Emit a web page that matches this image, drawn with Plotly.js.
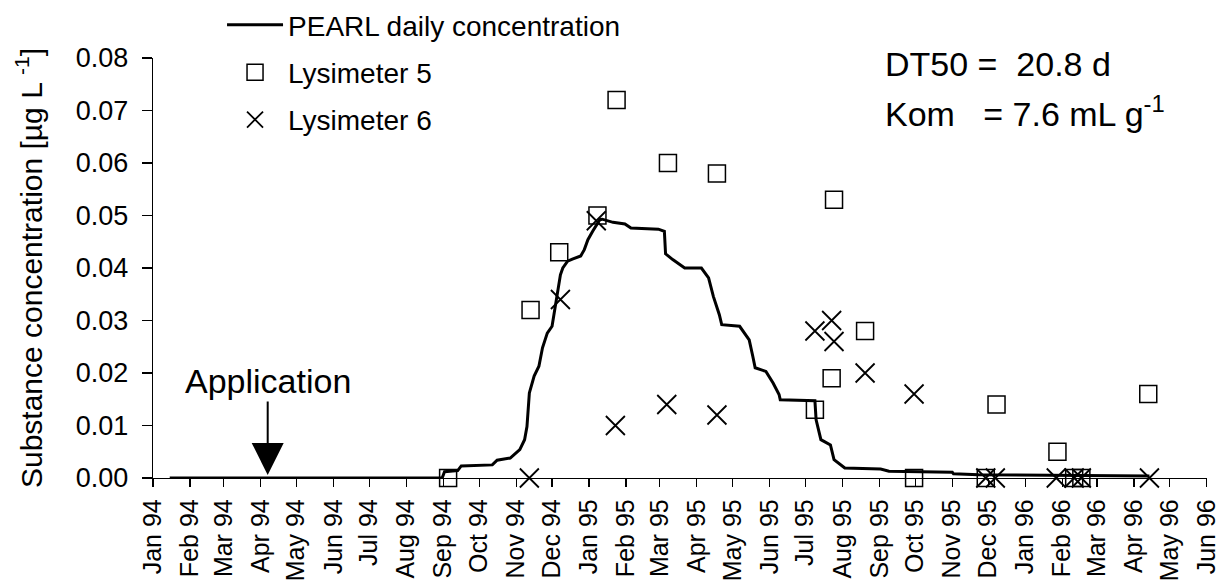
<!DOCTYPE html>
<html>
<head>
<meta charset="utf-8">
<script src="https://cdn.plot.ly/plotly-3.0.1.min.js"></script>
<style>
  html, body { margin: 0; padding: 0; background: #fff; }
  #chart { width: 1224px; height: 581px; }
</style>
</head>
<body>
<div id="chart"></div>
<script>
// Simulated PEARL leachate concentration (daily output, key turning points)
const pearlDates = [
  '1994-01-15', '1994-08-31', '1994-09-02', '1994-09-13', '1994-09-16', '1994-10-12',
  '1994-10-16', '1994-10-27', '1994-11-04', '1994-11-08', '1994-11-10', '1994-11-12',
  '1994-11-16', '1994-11-20', '1994-11-23', '1994-11-27', '1994-12-01', '1994-12-04',
  '1994-12-08', '1994-12-10', '1994-12-14', '1994-12-18', '1994-12-25', '1994-12-28',
  '1994-12-31', '1995-01-04', '1995-01-10', '1995-01-12', '1995-01-21', '1995-01-31',
  '1995-02-05', '1995-02-28', '1995-03-05', '1995-03-06', '1995-03-12', '1995-03-22',
  '1995-04-05', '1995-04-11', '1995-04-15', '1995-04-20', '1995-04-22', '1995-05-07',
  '1995-05-15', '1995-05-18', '1995-05-20', '1995-05-29', '1995-06-04', '1995-06-09',
  '1995-06-10', '1995-07-09', '1995-07-10', '1995-07-14', '1995-07-22', '1995-07-25',
  '1995-08-03', '1995-09-02', '1995-09-09', '1995-11-01', '1995-11-02', '1995-11-23',
  '1996-04-14'
];
const pearlConc = [
  0, 0, 0.0012, 0.0014, 0.0023, 0.0025,
  0.0034, 0.0038, 0.0054, 0.0073, 0.0098, 0.0162,
  0.0194, 0.0213, 0.0248, 0.0276, 0.0289, 0.0333,
  0.0387, 0.0400, 0.0413, 0.0417, 0.0423, 0.0435,
  0.0454, 0.0470, 0.0492, 0.0493, 0.0487, 0.0484,
  0.0476, 0.0474, 0.0470, 0.0427, 0.0416, 0.0400,
  0.0400, 0.0381, 0.0346, 0.0311, 0.0292, 0.0289,
  0.0263, 0.0232, 0.0210, 0.0203, 0.0181, 0.0159,
  0.0149, 0.0147, 0.0111, 0.0073, 0.0063, 0.0035,
  0.0019, 0.0017, 0.0013, 0.0011, 0.0008, 0.0006,
  0.0004
];

// Measured concentrations, lysimeter 5
const lys5Dates = [
  '1994-09-05', '1994-11-13', '1994-12-07', '1995-01-08', '1995-01-24', '1995-03-08',
  '1995-04-18', '1995-07-09', '1995-07-23', '1995-07-25', '1995-08-20', '1995-09-30',
  '1995-11-29', '1995-12-08', '1996-01-28', '1996-02-11', '1996-02-17', '1996-04-13'
];
const lys5Conc = [
  0, 0.032, 0.043, 0.050, 0.072, 0.060,
  0.058, 0.013, 0.019, 0.053, 0.028, 0,
  0, 0.014, 0.005, 0, 0, 0.016
];

// Measured concentrations, lysimeter 6
const lys6Dates = [
  '1994-11-12', '1994-12-08', '1995-01-07', '1995-01-23', '1995-03-07', '1995-04-18',
  '1995-07-09', '1995-07-23', '1995-07-25', '1995-08-20', '1995-09-30', '1995-11-29',
  '1995-12-07', '1996-01-27', '1996-02-11', '1996-02-17', '1996-04-14'
];
const lys6Conc = [
  0, 0.034, 0.049, 0.010, 0.014, 0.012,
  0.028, 0.030, 0.026, 0.020, 0.016, 0,
  0, 0, 0, 0, 0
];

const applicationDate = '1994-04-07';

// Monthly axis ticks
const tickDates = [
  '1994-01-01', '1994-02-01', '1994-03-01', '1994-04-01', '1994-05-01', '1994-06-01',
  '1994-07-01', '1994-08-01', '1994-09-01', '1994-10-01', '1994-11-01', '1994-12-01',
  '1995-01-01', '1995-02-01', '1995-03-01', '1995-04-01', '1995-05-01', '1995-06-01',
  '1995-07-01', '1995-08-01', '1995-09-01', '1995-10-01', '1995-11-01', '1995-12-01',
  '1996-01-01', '1996-02-01', '1996-03-01', '1996-04-01', '1996-05-01', '1996-06-01'
];
const tickLabels = [
  'Jan 94', 'Feb 94', 'Mar 94', 'Apr 94', 'May 94', 'Jun 94',
  'Jul 94', 'Aug 94', 'Sep 94', 'Oct 94', 'Nov 94', 'Dec 94',
  'Jan 95', 'Feb 95', 'Mar 95', 'Apr 95', 'May 95', 'Jun 95',
  'Jul 95', 'Aug 95', 'Sep 95', 'Oct 95', 'Nov 95', 'Dec 95',
  'Jan 96', 'Feb 96', 'Mar 96', 'Apr 96', 'May 96', 'Jun 96'
];
const yTicks = [0, 0.01, 0.02, 0.03, 0.04, 0.05, 0.06, 0.07, 0.08];

const FONT = 'Liberation Sans, Arial, Helvetica, sans-serif';
const INK = '#000000';

const traces = [
  {
    name: 'PEARL daily concentration',
    x: pearlDates, y: pearlConc,
    type: 'scatter', mode: 'lines',
    line: { color: INK, width: 3 },
    legendgroup: 'a'
  },
  {
    name: 'Lysimeter 5',
    x: lys5Dates, y: lys5Conc,
    type: 'scatter', mode: 'markers',
    marker: { symbol: 'square-open', size: 17, color: INK, line: { color: INK, width: 1.5 } },
    cliponaxis: false,
    legendgroup: 'b'
  },
  {
    name: 'Lysimeter 6',
    x: lys6Dates, y: lys6Conc,
    type: 'scatter', mode: 'markers',
    marker: { symbol: 'x-thin-open', size: 19, color: INK, line: { color: INK, width: 1.8 } },
    cliponaxis: false,
    legendgroup: 'c'
  }
];

const layout = {
  width: 1224, height: 581,
  margin: { l: 153, r: 17, t: 58, b: 103, autoexpand: false },
  paper_bgcolor: '#fff', plot_bgcolor: '#fff',
  font: { family: FONT, color: INK, size: 27 },
  showlegend: true,
  legend: {
    x: 0.0655, y: 1.138, xanchor: 'left', yanchor: 'top',
    font: { family: FONT, size: 28, color: INK },
    bgcolor: 'rgba(0,0,0,0)',
    traceorder: 'grouped', tracegroupgap: 8,
    itemwidth: 56
  },
  xaxis: {
    type: 'date',
    range: ['1994-01-01', '1996-06-01 04:00'],
    tickmode: 'array', tickvals: tickDates, ticktext: tickLabels,
    tickangle: -90,
    ticks: 'outside', ticklen: 8, tickwidth: 1.3, tickcolor: INK,
    ticklabelstandoff: 2,
    showline: true, linecolor: INK, linewidth: 1.3,
    showgrid: false, zeroline: false,
    tickfont: { family: FONT, size: 25, color: INK },
    automargin: false,
    fixedrange: true
  },
  yaxis: {
    range: [0, 0.08],
    tickmode: 'array', tickvals: yTicks, tickformat: '.2f',
    ticks: 'outside', ticklen: 10, tickwidth: 1.3, tickcolor: INK,
    ticklabelstandoff: 8,
    showline: true, linecolor: INK, linewidth: 1.3,
    showgrid: false, zeroline: false,
    tickfont: { family: FONT, size: 27, color: INK },
    title: {
      text: 'Substance concentration [µg L <sup>-1</sup>]',
      font: { family: FONT, size: 30, color: INK },
      standoff: 24
    },
    automargin: false,
    fixedrange: true
  },
  annotations: [
    {
      x: applicationDate, y: 0, xref: 'x', yref: 'y',
      text: 'Application', showarrow: true,
      arrowhead: 2, arrowsize: 3.2, arrowwidth: 2, arrowcolor: INK,
      ax: 0, ay: -97, standoff: 3,
      font: { family: FONT, size: 34, color: INK }
    },
    {
      xref: 'paper', yref: 'paper', x: 0.6926, y: 0.9857,
      xanchor: 'left', yanchor: 'middle', showarrow: false,
      text: 'DT50 =\u00a0\u00a020.8 d',
      font: { family: FONT, size: 34, color: INK }
    },
    {
      xref: 'paper', yref: 'paper', x: 0.6926, y: 0.8738,
      xanchor: 'left', yanchor: 'middle', showarrow: false,
      text: 'Kom\u00a0\u00a0\u00a0= 7.6 mL g<sup>-1</sup>',
      font: { family: FONT, size: 34, color: INK }
    }
  ]
};

Plotly.newPlot('chart', traces, layout, { staticPlot: true, displayModeBar: false });
</script>
</body>
</html>
